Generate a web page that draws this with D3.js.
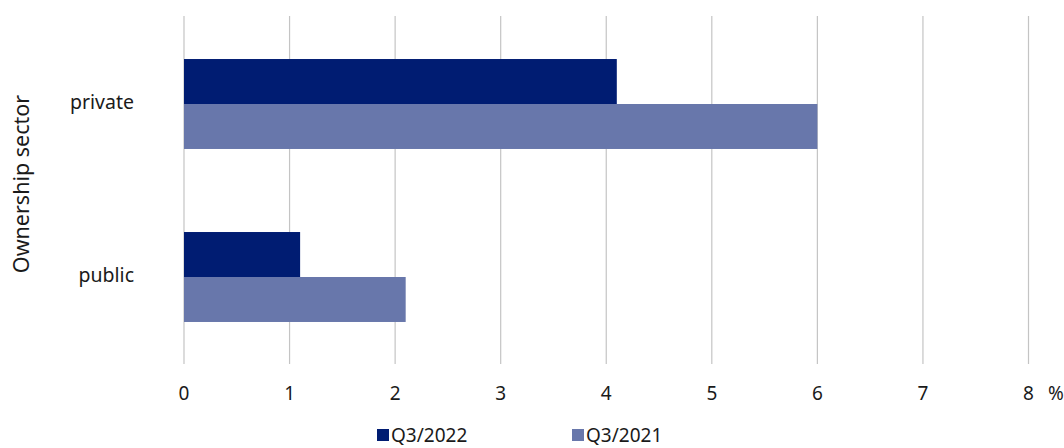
<!DOCTYPE html>
<html><head><meta charset="utf-8">
<script src="https://cdn.jsdelivr.net/npm/d3@7"></script>
<style>body{margin:0;background:#fff}svg{display:block}text{font-family:"Noto Sans",sans-serif;fill:#1a1a1a}</style>
</head><body><svg id="c" width="1064" height="448"></svg>
<script>
const categories = ["private", "public"];
const seriesNames = ["Q3/2022", "Q3/2021"];
const q3_2022 = [4.1, 1.1];
const q3_2021 = [6.0, 2.1];
const xTicks = [0, 1, 2, 3, 4, 5, 6, 7, 8];
const colors = ["#001c72", "#6877ab"];

const svg = d3.select("#c");
const x = d3.scaleLinear().domain([0, 8]).range([184, 1028.5]);
const y = d3.scaleBand().domain(categories).range([17.5, 363.5]).paddingInner(0.48).paddingOuter(0.24);
const ys = d3.scaleBand().domain(seriesNames).range([0, y.bandwidth()]);

// gridlines
svg.append("g").selectAll("line").data(xTicks).join("line")
  .attr("x1", d => x(d)).attr("x2", d => x(d))
  .attr("y1", 16).attr("y2", 364)
  .attr("stroke", "#c4c4c4").attr("stroke-width", 1.2);

const series = [q3_2022, q3_2021];
series.forEach((vals, si) => {
  svg.append("g").selectAll("rect").data(categories).join("rect")
    .attr("x", x(0))
    .attr("y", (c) => y(c) + ys(seriesNames[si]))
    .attr("width", (c, i) => x(vals[i]) - x(0))
    .attr("height", ys.bandwidth())
    .attr("fill", colors[si]);
});

// x tick labels
svg.append("g").selectAll("text").data(xTicks).join("text")
  .attr("x", d => x(d)).attr("y", 400)
  .attr("text-anchor", "middle").attr("font-size", 19)
  .text(d => d);
svg.append("text").attr("x", 1048).attr("y", 400).attr("font-size", 19).text("%");

// category labels
svg.append("g").selectAll("text").data(categories).join("text")
  .attr("x", 134).attr("y", c => y(c) + y.bandwidth() / 2 + 5)
  .attr("text-anchor", "end").attr("font-size", 19.5)
  .text(c => c);

// axis title
svg.append("text").attr("transform", "translate(29,184) rotate(-90)")
  .attr("text-anchor", "middle").attr("font-size", 21.5).text("Ownership sector");

// legend
const legX = [377, 572];
seriesNames.forEach((s, i) => {
  svg.append("rect").attr("x", legX[i]).attr("y", 429).attr("width", 12).attr("height", 12).attr("fill", colors[i]);
  svg.append("text").attr("x", legX[i] + 14).attr("y", 442).attr("font-size", 19).text(s);
});
</script></body></html>
